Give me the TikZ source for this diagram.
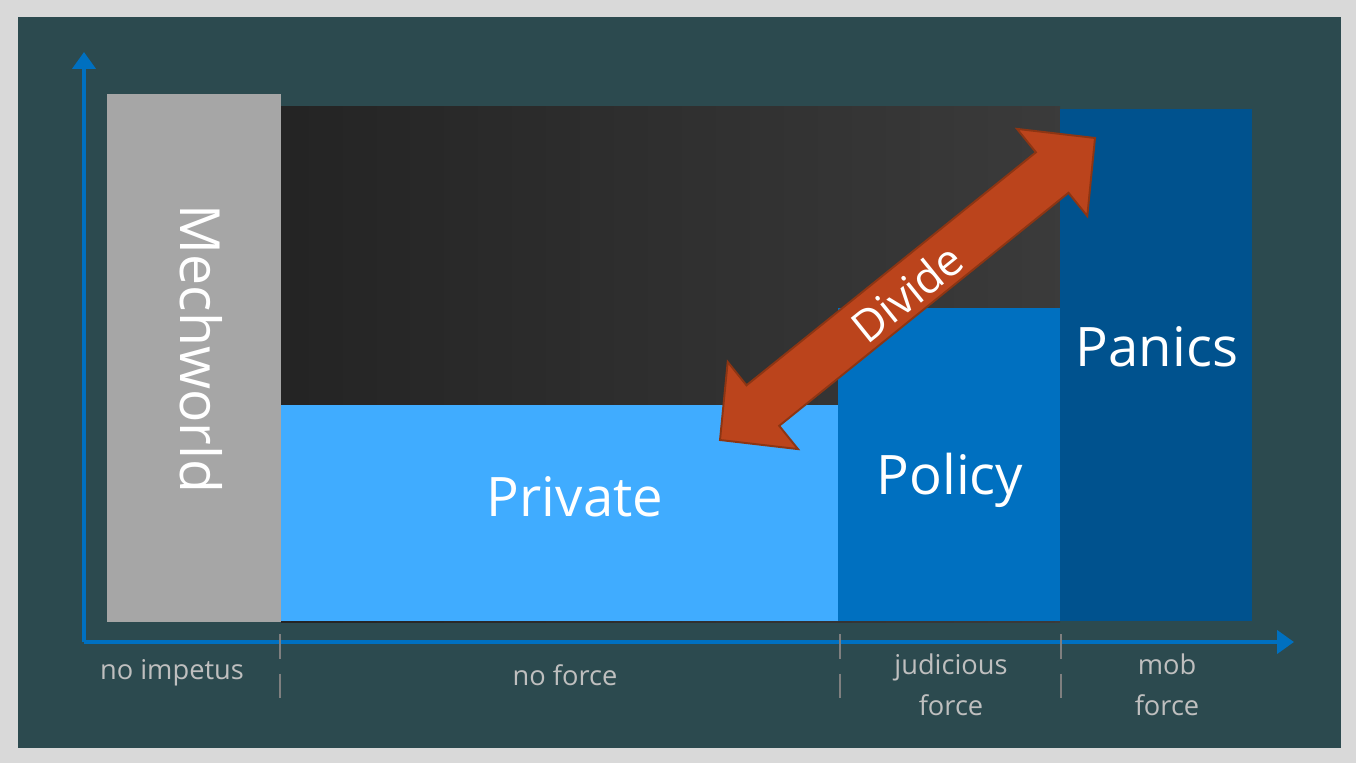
\documentclass[tikz,border=0pt]{standalone}
\usepackage{fontspec}
\setmainfont{Open Sans}
\usetikzlibrary{arrows.meta}
\definecolor{framegray}{HTML}{D9D9D9}
\definecolor{slate}{HTML}{2C4A4F}
\definecolor{mechgray}{HTML}{A6A6A6}
\definecolor{privblue}{HTML}{40ACFF}
\definecolor{polblue}{HTML}{0070C0}
\definecolor{panblue}{HTML}{00528E}
\definecolor{divfill}{HTML}{BB441C}
\definecolor{divline}{HTML}{8D3513}
\definecolor{labelgray}{HTML}{BFBFBF}
\definecolor{tickgray}{HTML}{7F7F7F}
\tikzset{
  bigtext/.style={text=white, inner sep=0pt, font=\fontsize{31}{37}\selectfont},
  axislabel/.style={text=labelgray, inner sep=0pt, align=center, font=\fontsize{15.5}{23.2}\selectfont},
  tickline/.style={tickgray, line width=1.2pt, dash pattern=on 14pt off 8.5pt},
  axisline/.style={polblue, line width=2.3pt, -{Triangle[length=9.6pt,width=13pt]}}
}
\begin{document}
\begin{tikzpicture}[x=0.02cm,y=-0.02cm]
			\useasboundingbox (0,0) rectangle (1356,763);
			\fill[framegray] (0,0) rectangle (1356,763);
			\fill[slate] (18,17) rectangle (1341,748);
			\coordinate (origin) at (84,642);
			\coordinate (ytop) at (84,52);
			\coordinate (xend) at (1294,642);
			\draw[axisline] (origin) -- (ytop);
			\draw[axisline] (origin) -- (xend);
			\fill[mechgray] (107,94) rectangle (281,622);
			\shade[shading angle=100, left color=black!86, right color=black!77] (281,107) rectangle (1060,622);
			\fill[privblue] (281,405) rectangle (838,621);
			\fill[polblue] (838,308) rectangle (1060,621);
			\fill[panblue] (1060,109) rectangle (1252,621);
			\node[bigtext, rotate=-90, anchor=base, font=\fontsize{31.5}{38}\selectfont] (mechworld) at (180,349) {Mechworld};
			\node[bigtext, anchor=base] (private) at (575,517) {Private};
			\node[bigtext, anchor=base] (policy) at (950,495) {Policy};
			\node[bigtext, anchor=base] (panics) at (1157,367) {Panics};
			\draw[fill=divfill, draw=divline, line width=1.1pt] (1095,138) -- (1087.3,216.1) -- (1068.5,192.8) -- (779.2,425.8) -- (798,449.1) -- (720,440) -- (727.7,361.9) -- (746.5,385.3) -- (1035.9,152.3) -- (1017,128.9) -- cycle;
			\node[rotate=38.8, text=white, inner sep=0pt, font=\fontsize{25}{30}\selectfont] (divide) at (907,293) {Divide};
			\foreach \t in {280,840,1061}
				\draw[tickline] (\t,634) -- (\t,699);
			\node[axislabel, anchor=base] (impetus) at (172,679) {no impetus};
			\node[axislabel, anchor=base] (noforce) at (565,685) {no force};
			\node[axislabel] (judicious) at (951,685) {judicious\\force};
			\node[axislabel] (mob) at (1167,685) {mob\\force};
		\end{tikzpicture}
\end{document}
